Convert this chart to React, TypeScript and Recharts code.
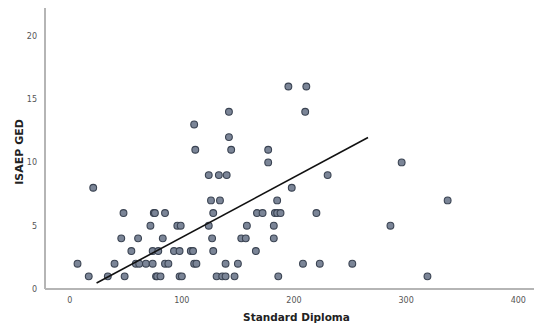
import { ScatterChart, Scatter, XAxis, YAxis } from 'recharts';

// Standard Diploma (x) vs ISAEP GED (y), one entry per school
const diplomaCounts = [
  17, 34, 49, 77, 78, 81, 98, 100, 131, 136, 139, 147, 186, 319,
  7, 40, 59, 62, 68, 74, 85, 88, 111, 113, 139, 150, 208, 223, 252,
  55, 74, 79, 93, 98, 108, 110, 128, 166,
  46, 61, 83, 127, 153, 157, 182,
  72, 96, 99, 124, 158, 182, 286,
  48, 75, 76, 85, 128, 167, 172, 183, 185, 188, 220,
  126, 134, 185, 337,
  21, 198,
  124, 133, 140, 230,
  177, 296,
  112, 144, 177,
  142,
  111,
  142, 210,
  195, 211,
];
const gedCounts = [
  1, 1, 1, 1, 1, 1, 1, 1, 1, 1, 1, 1, 1, 1,
  2, 2, 2, 2, 2, 2, 2, 2, 2, 2, 2, 2, 2, 2, 2,
  3, 3, 3, 3, 3, 3, 3, 3, 3,
  4, 4, 4, 4, 4, 4, 4,
  5, 5, 5, 5, 5, 5, 5,
  6, 6, 6, 6, 6, 6, 6, 6, 6, 6, 6,
  7, 7, 7, 7,
  8, 8,
  9, 9, 9, 9,
  10, 10,
  11, 11, 11,
  12,
  13,
  14, 14,
  16, 16,
];

// fit line end points
const fitX = [24, 266];
const fitY = [0.47, 11.97];

const xTicks = [0, 100, 200, 300, 400];
const yTicks = [0, 5, 10, 15, 20];

const points = diplomaCounts.map((x, i) => ({ x, y: gedCounts[i] }));
const fitLine = fitX.map((x, i) => ({ x, y: fitY[i] }));

const tickStyle = { fontSize: 8, fill: '#555', fontFamily: 'DejaVu Sans' };
const titleStyle = { fontSize: 11, fontWeight: 'bold', fill: '#222', fontFamily: 'DejaVu Sans' };

const Dot = (props: any) => (
  <circle cx={props.cx} cy={props.cy} r={3.4} fill="#7b8597" stroke="#3a4352" strokeWidth={1.1} />
);

const YTitle = () => (
  <text
    x={19}
    y={152}
    transform="rotate(-90 19 152)"
    textAnchor="middle"
    dominantBaseline="central"
    style={titleStyle}
  >
    ISAEP GED
  </text>
);

export default function App() {
  return (
    <div style={{ position: 'absolute', left: 0, top: 0, background: '#fff' }}>
      <ScatterChart width={534} height={324} margin={{ top: 8, right: 0, bottom: 0, left: 0 }}>
        <XAxis
          type="number"
          dataKey="x"
          domain={[-22, 414]}
          ticks={xTicks}
          tickLine={false}
          tick={tickStyle}
          axisLine={{ stroke: '#b5b5b5', strokeWidth: 2 }}
          height={35}
          allowDataOverflow
          label={{
            value: 'Standard Diploma',
            position: 'insideBottom',
            offset: 3,
            dx: 7,
            style: { ...titleStyle, fontSize: 10.5 },
          }}
        />
        <YAxis
          type="number"
          dataKey="y"
          domain={[0, 22.2]}
          ticks={yTicks}
          tickLine={false}
          tick={tickStyle}
          axisLine={{ stroke: '#b5b5b5', strokeWidth: 2 }}
          width={45}
          allowDataOverflow
          label={<YTitle />}
        />
        <Scatter data={points} shape={<Dot />} isAnimationActive={false} />
        <Scatter
          data={fitLine}
          line={{ stroke: '#111', strokeWidth: 1.6 }}
          shape={() => null}
          isAnimationActive={false}
        />
      </ScatterChart>
    </div>
  );
}
